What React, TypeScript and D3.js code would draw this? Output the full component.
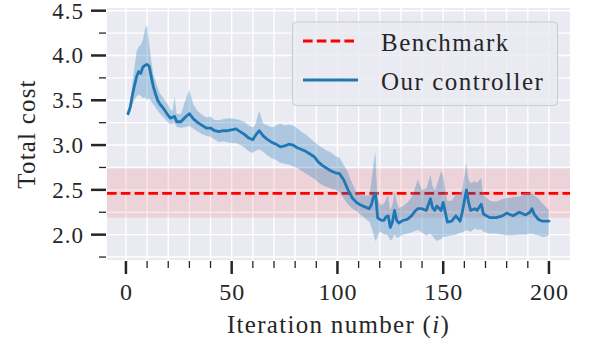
import React, { useEffect, useRef } from "react";
import * as d3 from "d3";

// iteration number and the total cost statistics
const iters = [1, 2, 3, 4, 5, 6, 7, 8, 9, 10, 11, 12, 13, 14, 15, 16, 18, 20, 21, 22, 23, 24, 26, 28, 30, 32, 34, 36, 38, 40, 42, 44, 46, 48, 50, 52, 54, 56, 58, 60, 61, 63, 65, 67, 69, 71, 73, 75, 77, 79, 81, 83, 85, 87, 89, 91, 93, 95, 97, 99, 101, 103, 105, 107, 109, 111, 113, 115, 116, 117, 118, 119, 120, 121, 122, 123, 124, 125, 126, 127, 128, 129, 131, 133, 135, 137, 138, 140, 142, 144, 145, 146, 147, 149, 150, 152, 154, 156, 158, 159, 161, 162, 163, 165, 166, 168, 169, 172, 175, 178, 180, 183, 186, 189, 191, 192, 193, 195, 197, 199, 200];
const meanCost = [3.35, 3.42, 3.55, 3.66, 3.76, 3.82, 3.8, 3.87, 3.89, 3.9, 3.88, 3.76, 3.65, 3.57, 3.5, 3.46, 3.4, 3.33, 3.3, 3.31, 3.32, 3.26, 3.26, 3.31, 3.35, 3.29, 3.25, 3.22, 3.19, 3.19, 3.16, 3.15, 3.16, 3.16, 3.17, 3.18, 3.15, 3.12, 3.08, 3.06, 3.1, 3.16, 3.1, 3.06, 3.03, 3.01, 2.98, 2.99, 3.01, 3.0, 2.97, 2.95, 2.93, 2.9, 2.87, 2.81, 2.77, 2.74, 2.71, 2.69, 2.68, 2.61, 2.5, 2.41, 2.36, 2.33, 2.31, 2.29, 2.33, 2.42, 2.46, 2.19, 2.17, 2.16, 2.16, 2.2, 2.21, 2.08, 2.14, 2.27, 2.16, 2.13, 2.16, 2.17, 2.21, 2.27, 2.29, 2.29, 2.27, 2.4, 2.3, 2.27, 2.32, 2.27, 2.36, 2.14, 2.15, 2.21, 2.15, 2.25, 2.5, 2.36, 2.27, 2.29, 2.27, 2.34, 2.23, 2.19, 2.19, 2.21, 2.24, 2.21, 2.25, 2.22, 2.25, 2.29, 2.23, 2.17, 2.15, 2.15, 2.15];
const lowerCost = [3.32, 3.36, 3.44, 3.5, 3.54, 3.56, 3.55, 3.52, 3.53, 3.5, 3.52, 3.48, 3.45, 3.42, 3.38, 3.35, 3.3, 3.25, 3.23, 3.24, 3.24, 3.2, 3.19, 3.2, 3.21, 3.18, 3.15, 3.12, 3.1, 3.09, 3.06, 3.03, 3.04, 3.03, 3.02, 3.02, 3.0, 2.97, 2.93, 2.91, 2.93, 2.95, 2.92, 2.88, 2.85, 2.83, 2.8, 2.79, 2.78, 2.76, 2.74, 2.71, 2.68, 2.65, 2.62, 2.58, 2.55, 2.53, 2.51, 2.5, 2.47, 2.4, 2.33, 2.29, 2.26, 2.22, 2.18, 2.14, 2.08, 2.0, 1.92, 1.98, 2.03, 2.02, 2.0, 2.0, 1.98, 1.93, 1.95, 2.0, 1.96, 1.97, 2.0, 2.01, 2.02, 2.04, 2.05, 2.02, 1.99, 2.01, 1.98, 1.95, 1.93, 1.95, 1.97, 1.98, 1.99, 2.0, 2.02, 2.02, 2.05, 2.04, 2.03, 2.07, 2.05, 2.06, 2.03, 2.01, 2.01, 2.0, 1.99, 1.99, 2.0, 2.0, 2.01, 2.01, 2.0, 1.99, 1.97, 1.98, 2.0];
const upperCost = [3.38, 3.48, 3.7, 3.88, 4.05, 4.1, 4.12, 4.18, 4.3, 4.34, 4.15, 3.95, 3.8, 3.72, 3.65, 3.58, 3.52, 3.45, 3.4, 3.38, 3.55, 3.35, 3.35, 3.5, 3.62, 3.45, 3.38, 3.34, 3.31, 3.32, 3.28, 3.28, 3.29, 3.3, 3.3, 3.29, 3.28, 3.26, 3.22, 3.2, 3.22, 3.39, 3.24, 3.22, 3.2, 3.22, 3.24, 3.22, 3.23, 3.22, 3.19, 3.15, 3.12, 3.08, 3.04, 3.0, 2.97, 2.94, 2.92, 2.88, 2.86, 2.78, 2.7, 2.58, 2.48, 2.45, 2.44, 2.44, 2.6, 2.8, 2.94, 2.42, 2.35, 2.33, 2.35, 2.4, 2.45, 2.28, 2.35, 2.5, 2.38, 2.3, 2.32, 2.36, 2.42, 2.55, 2.62, 2.5, 2.52, 2.68, 2.55, 2.5, 2.56, 2.72, 2.66, 2.38, 2.38, 2.45, 2.45, 2.52, 2.81, 2.62, 2.58, 2.6, 2.58, 2.64, 2.45, 2.38, 2.37, 2.4, 2.41, 2.42, 2.43, 2.46, 2.46, 2.47, 2.44, 2.41, 2.35, 2.3, 2.28];

const benchmark = [2.46];
const benchmarkBand = [2.19, 2.74];

const xTicks = [0, 50, 100, 150, 200];
const yTicks = [2.0, 2.5, 3.0, 3.5, 4.0, 4.5];
const legendLabels = ["Benchmark", "Our controller"];

const FONT = "'Liberation Serif', 'Times New Roman', serif";
const INK = "#262626";

export default function App() {
    const ref = useRef<SVGSVGElement>(null);

    useEffect(() => {
        const svg = d3.select(ref.current);
        svg.selectAll("*").remove();

        // plot area
        const left = 107, right = 570, top = 8, bottom = 260;

        const x = d3.scaleLinear().domain([-8.95, 209.95]).range([left, right]);
        const y = d3.scaleLinear().domain([1.717, 4.53]).range([bottom, top]);

        svg.append("rect")
            .attr("x", left).attr("y", top)
            .attr("width", right - left).attr("height", bottom - top)
            .attr("fill", "#eaeaf2");

        const xMinor = d3.range(0, 201, 10);
        const yMinor = d3.range(1.75, 4.51, 0.25);

        // grid
        const grid = svg.append("g").attr("stroke", "#fff").attr("stroke-width", 1.4);
        xMinor.forEach(function (t) {
            grid.append("line")
                .attr("x1", x(t)).attr("x2", x(t))
                .attr("y1", top).attr("y2", bottom);
        });
        yMinor.forEach(function (t) {
            grid.append("line")
                .attr("x1", left).attr("x2", right)
                .attr("y1", y(t)).attr("y2", y(t));
        });

        // benchmark band
        svg.append("rect")
            .attr("x", left).attr("width", right - left)
            .attr("y", y(benchmarkBand[1]))
            .attr("height", y(benchmarkBand[0]) - y(benchmarkBand[1]))
            .attr("fill", "red").attr("fill-opacity", 0.1);

        svg.append("line")
            .attr("x1", left).attr("x2", right)
            .attr("y1", y(benchmark[0])).attr("y2", y(benchmark[0]))
            .attr("stroke", "#ff0000").attr("stroke-width", 2.8)
            .attr("stroke-dasharray", "9.6,4.2");

        // controller band + mean
        const idx = d3.range(iters.length);
        const area = d3.area<number>()
            .x(function (i) { return x(iters[i]); })
            .y0(function (i) { return y(lowerCost[i]); })
            .y1(function (i) { return y(upperCost[i]); });
        svg.append("path")
            .attr("d", area(idx))
            .attr("fill", "#1f77b4").attr("fill-opacity", 0.3)
            .attr("stroke", "#fff").attr("stroke-opacity", 0.25).attr("stroke-width", 0.8);

        const line = d3.line<number>()
            .x(function (i) { return x(iters[i]); })
            .y(function (i) { return y(meanCost[i]); });
        svg.append("path")
            .attr("d", line(idx))
            .attr("fill", "none")
            .attr("stroke", "#1f77b4").attr("stroke-width", 2.8)
            .attr("stroke-linejoin", "round").attr("stroke-linecap", "round");

        // ticks
        const ticks = svg.append("g").attr("stroke", INK);
        xMinor.forEach(function (t) {
            const major = xTicks.indexOf(t) >= 0;
            ticks.append("line")
                .attr("x1", x(t)).attr("x2", x(t))
                .attr("y1", bottom + 1).attr("y2", bottom + (major ? 14 : 8))
                .attr("stroke-width", major ? 2.5 : 1.3);
        });
        yMinor.forEach(function (t) {
            const major = Math.abs(t * 2 - Math.round(t * 2)) < 1e-6;
            ticks.append("line")
                .attr("x1", left - 1).attr("x2", left - (major ? 16 : 8))
                .attr("y1", y(t)).attr("y2", y(t))
                .attr("stroke-width", major ? 2.5 : 1.3);
        });

        const labels = svg.append("g")
            .attr("font-family", FONT).attr("fill", INK)
            .attr("letter-spacing", 1);

        xTicks.forEach(function (t) {
            labels.append("text")
                .attr("x", x(t) + 0.5).attr("y", 300)
                .attr("text-anchor", "middle").attr("font-size", 24)
                .text(String(t));
        });
        yTicks.forEach(function (t) {
            labels.append("text")
                .attr("x", 84).attr("y", y(t) + 8)
                .attr("text-anchor", "end").attr("font-size", 23)
                .text(t.toFixed(1));
        });

        const xl = labels.append("text")
            .attr("x", (left + right) / 2).attr("y", 333)
            .attr("text-anchor", "middle").attr("font-size", 25)
            .attr("letter-spacing", 1.3);
        xl.append("tspan").text("Iteration number (");
        xl.append("tspan").attr("font-style", "italic").text("i");
        xl.append("tspan").text(")");

        labels.append("text")
            .attr("transform", "translate(35,134) rotate(-90)")
            .attr("text-anchor", "middle").attr("font-size", 25)
            .attr("letter-spacing", 1.2)
            .text("Total cost");

        // legend
        const lg = svg.append("g");
        lg.append("rect")
            .attr("x", 292.5).attr("y", 22)
            .attr("width", 265).attr("height", 83.5)
            .attr("rx", 4)
            .attr("fill", "#eaeaf2").attr("fill-opacity", 0.8)
            .attr("stroke", "#cccccc").attr("stroke-width", 1);
        lg.append("line")
            .attr("x1", 303).attr("x2", 358).attr("y1", 41).attr("y2", 41)
            .attr("stroke", "#ff0000").attr("stroke-width", 2.8)
            .attr("stroke-dasharray", "9.6,4.2");
        lg.append("line")
            .attr("x1", 303).attr("x2", 358).attr("y1", 80).attr("y2", 80)
            .attr("stroke", "#1f77b4").attr("stroke-width", 2.8);
        legendLabels.forEach(function (d, i) {
            lg.append("text")
                .attr("x", 381).attr("y", 51 + i * 39)
                .attr("font-family", FONT).attr("font-size", 25).attr("fill", INK)
                .attr("letter-spacing", 1.5)
                .text(d);
        });
    }, []);

    return (
        <svg ref={ref} width={589} height={348}
            style={{ position: "absolute", left: 0, top: 0 }} />
    );
}
